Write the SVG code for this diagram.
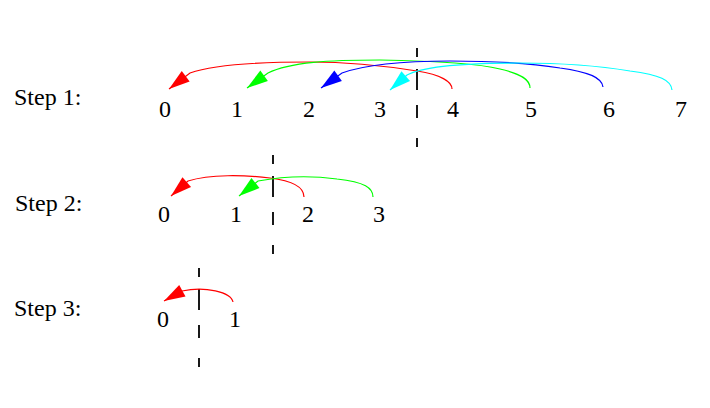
<svg xmlns="http://www.w3.org/2000/svg" width="710" height="408" viewBox="0 0 710 408">
<style>
text{font-family:"Liberation Serif","Times New Roman",serif;font-size:24px;fill:#000}
.d{text-anchor:middle}
.arc{fill:none;stroke-width:1.2}
.r{stroke:#ff0000}.g{stroke:#00ff00}.b{stroke:#0000ff}.c{stroke:#00ffff}
.dash{stroke:#000;stroke-width:1.8;stroke-dasharray:9 12 21 15 13 20 9;fill:none}
</style>
<defs>
<marker id="ar" markerUnits="userSpaceOnUse" markerWidth="22" markerHeight="14" refX="21" refY="7" orient="auto" overflow="visible"><path d="M0,0.5 L21,7 L0,13.5 z" fill="#ff0000"/></marker>
<marker id="ag" markerUnits="userSpaceOnUse" markerWidth="22" markerHeight="14" refX="21" refY="7" orient="auto" overflow="visible"><path d="M0,0.5 L21,7 L0,13.5 z" fill="#00ff00"/></marker>
<marker id="ab" markerUnits="userSpaceOnUse" markerWidth="22" markerHeight="14" refX="21" refY="7" orient="auto" overflow="visible"><path d="M0,0.5 L21,7 L0,13.5 z" fill="#0000ff"/></marker>
<marker id="ac" markerUnits="userSpaceOnUse" markerWidth="22" markerHeight="14" refX="21" refY="7" orient="auto" overflow="visible"><path d="M0,0.5 L21,7 L0,13.5 z" fill="#00ffff"/></marker>
</defs>
<g id="labels">
<g id="step1"><text x="14" y="105">Step 1:</text></g>
<g id="step2"><text x="15" y="211">Step 2:</text></g>
<g id="step3"><text x="14" y="316">Step 3:</text></g>
</g>
<g id="row1">
<g id="s1n0"><text class="d" x="165" y="117">0</text></g>
<g id="s1n1"><text class="d" x="237" y="117">1</text></g>
<g id="s1n2"><text class="d" x="309" y="117">2</text></g>
<g id="s1n3"><text class="d" x="380" y="117">3</text></g>
<g id="s1n4"><text class="d" x="453" y="117">4</text></g>
<g id="s1n5"><text class="d" x="531" y="117">5</text></g>
<g id="s1n6"><text class="d" x="609" y="117">6</text></g>
<g id="s1n7"><text class="d" x="681" y="117">7</text></g>
</g>
<g id="row2">
<g id="s2n0"><text class="d" x="164" y="222">0</text></g>
<g id="s2n1"><text class="d" x="236" y="222">1</text></g>
<g id="s2n2"><text class="d" x="308" y="222">2</text></g>
<g id="s2n3"><text class="d" x="379" y="222">3</text></g>
</g>
<g id="row3">
<g id="s3n0"><text class="d" x="163" y="327">0</text></g>
<g id="s3n1"><text class="d" x="235" y="327">1</text></g>
</g>
<g id="dividers">
<line class="dash" x1="417" y1="48" x2="417" y2="147"/>
<line class="dash" x1="273" y1="155" x2="273" y2="254"/>
<line class="dash" x1="199" y1="268" x2="199" y2="367"/>
</g>
<g id="connectors">
<path class="arc r" marker-end="url(#ar)" d="M452,89 C452,82 442,75 417,71 C395,67.5 360,62 310,62 C260,62 215,64 190,73 L169,89"/>
<path class="arc g" marker-end="url(#ag)" d="M530,88 C530,80 522,74 500,69 C480,64 440,61 380,60 C330,60 290,62 268,73 L247,88"/>
<path class="arc b" marker-end="url(#ab)" d="M603,87 C602,78 590,72 560,68 C530,63 500,61 450,61 C415,61 370,63 342,73 L321,88"/>
<path class="arc c" marker-end="url(#ac)" d="M672,90 C671,80 660,75 630,71 C600,66 570,63 520,63 C470,63 425,65 407,75 L390,90"/>
<path class="arc r" marker-end="url(#ar)" d="M304,197 C304,188 295,181 270,178 C245,175 210,174 188,181 L171,196"/>
<path class="arc g" marker-end="url(#ag)" d="M373,197 C373,188 365,182 337,179 C315,176 285,176 258,181 L239,196"/>
<path class="arc r" marker-end="url(#ar)" d="M233,302 C231,292 205,286 182,291 L164,301"/>
</g>
</svg>
